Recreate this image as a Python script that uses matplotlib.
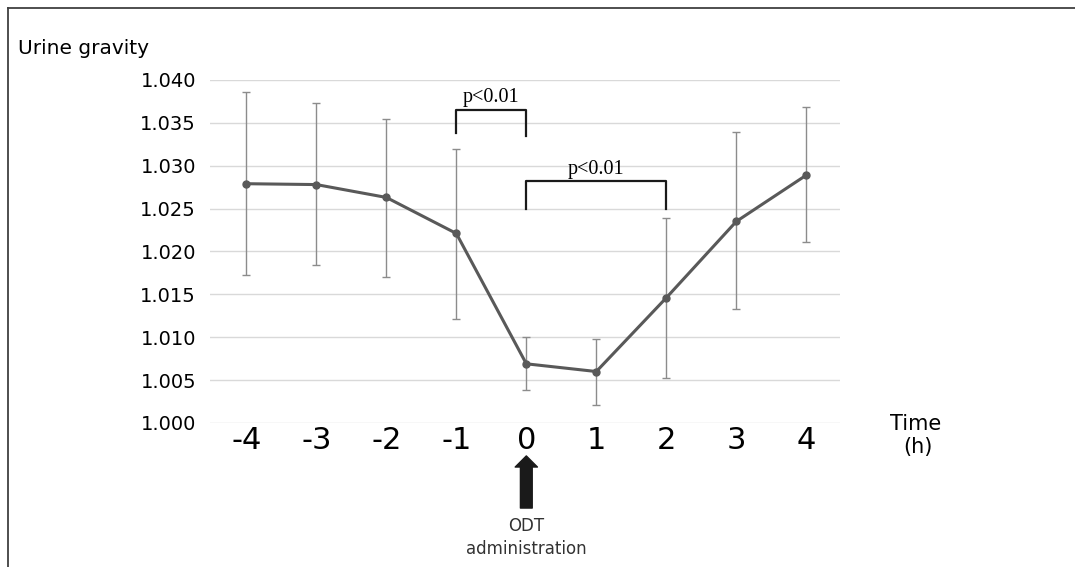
import matplotlib.pyplot as plt
from matplotlib.lines import Line2D
import numpy as np

# Time points (h) and urine specific gravity (mean, upper and lower error ends)
hours = [-4, -3, -2, -1, 0, 1, 2, 3, 4]
gravity = [1.0279, 1.0278, 1.0263, 1.0221, 1.0069, 1.0060, 1.0146, 1.0235, 1.0289]
err_top = [1.0386, 1.0373, 1.0355, 1.0320, 1.0100, 1.0098, 1.0239, 1.0339, 1.0368]
err_bottom = [1.0173, 1.0184, 1.0170, 1.0121, 1.0039, 1.0021, 1.0053, 1.0133, 1.0211]
y_ticks = [1.000, 1.005, 1.010, 1.015, 1.020, 1.025, 1.030, 1.035, 1.040]

# significance brackets: (start, end, top, left leg end, right leg end)
brackets = [(-1, 0, 1.0365, 1.0338, 1.0335), (0, 2, 1.0282, 1.0250, 1.0250)]

g = np.array(gravity)
yerr = [g - np.array(err_bottom), np.array(err_top) - g]

fig = plt.figure(figsize=(10.75, 5.67), dpi=100)
ax = fig.add_axes([0.1953, 0.254, 0.586, 0.605])

ax.errorbar(hours, gravity, yerr=yerr, fmt='none', ecolor='#8c8c8c',
            elinewidth=1, capsize=3, capthick=1, zorder=2)
ax.plot(hours, gravity, color='#595959', linewidth=2.2, marker='o',
        markersize=5, zorder=3)

for x0, x1, top, l0, l1 in brackets:
    ax.plot([x0, x0, x1, x1], [l0, top, top, l1], color='#1a1a1a', linewidth=1.6)
    ax.text((x0 + x1) / 2, top + 0.0003, 'p<0.01', ha='center', va='bottom',
            fontsize=14.5, family='Liberation Serif')

ax.set_xlim(-4.52, 4.48)
ax.set_ylim(1.000, 1.040)
ax.set_yticks(y_ticks)
ax.set_yticklabels([f'{v:.3f}' for v in y_ticks], fontsize=14)
ax.set_xticks(hours)
ax.set_xticklabels([str(h) for h in hours], fontsize=22)
ax.tick_params(length=0)
ax.tick_params(axis='y', pad=10)
ax.tick_params(axis='x', pad=2)
ax.grid(axis='y', color='#d9d9d9', linewidth=1)
ax.set_axisbelow(True)
for s in ax.spines.values():
    s.set_visible(False)

fig.text(0.017, 0.915, 'Urine gravity', fontsize=14.5, va='center')
fig.text(0.828, 0.252, 'Time', fontsize=15, va='center')
fig.text(0.840, 0.211, '(h)', fontsize=15, va='center')

ax.annotate('', xy=(0, -0.096), xytext=(0, -0.248),
            xycoords=('data', 'axes fraction'), textcoords=('data', 'axes fraction'),
            arrowprops=dict(arrowstyle='simple,head_width=1.6,head_length=0.8,tail_width=0.85',
                            color='#1a1a1a', shrinkA=0, shrinkB=0),
            annotation_clip=False)
ax.text(0, -0.300, 'ODT', ha='center', va='center', fontsize=12,
        color='#333333', transform=ax.get_xaxis_transform())
ax.text(0, -0.367, 'administration', ha='center', va='center', fontsize=12,
        color='#333333', transform=ax.get_xaxis_transform())

# outer frame (left and top edges visible)
fig.add_artist(Line2D([0.0074, 0.0074], [0, 0.986], color='#404040', linewidth=1.3))
fig.add_artist(Line2D([0.0074, 1], [0.986, 0.986], color='#404040', linewidth=1.3))

fig.savefig('out.png', dpi=100)
